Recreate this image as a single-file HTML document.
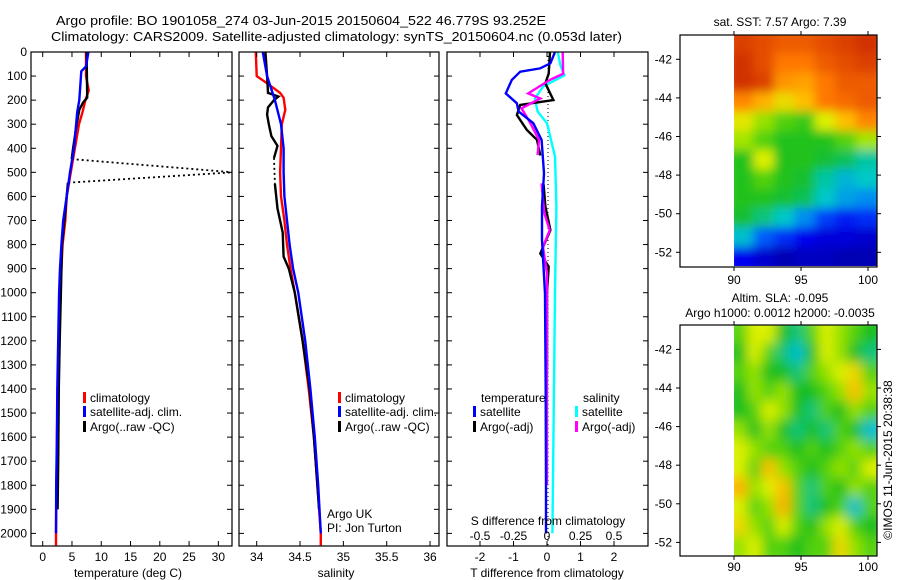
<!DOCTYPE html>
<html><head><meta charset="utf-8"><style>
html,body{margin:0;padding:0;background:#fff;}
svg{display:block;font-family:"Liberation Sans",Arial,sans-serif;}
text{fill:#000;font-size:12px;}
</style></head><body>
<svg id="chart" width="900" height="580" viewBox="0 0 900 580" xmlns="http://www.w3.org/2000/svg">
<defs>
<filter id="blurA" x="0" y="0" width="1" height="1"><feGaussianBlur stdDeviation="5"/></filter>
<filter id="blurB" x="0" y="0" width="1" height="1"><feGaussianBlur stdDeviation="6"/></filter>
<clipPath id="clip1"><rect x="31" y="52" width="201" height="494"/></clipPath>
<clipPath id="clip2"><rect x="239" y="52" width="200" height="494"/></clipPath>
<clipPath id="clip3"><rect x="447" y="52" width="201" height="494"/></clipPath>
<clipPath id="clipM1"><rect x="734" y="35" width="143" height="231"/></clipPath>
<clipPath id="clipM2"><rect x="734" y="325" width="143" height="231"/></clipPath>
</defs>
<text x="56" y="25" textLength="490" lengthAdjust="spacingAndGlyphs" style="font-size:13px">Argo profile: BO 1901058_274 03-Jun-2015 20150604_522 46.779S 93.252E</text>
<text x="51" y="41" textLength="571" lengthAdjust="spacingAndGlyphs" style="font-size:13px">Climatology: CARS2009. Satellite-adjusted climatology: synTS_20150604.nc (0.053d later)</text>
<g id="g1"></g><g id="g2"></g><g id="g3"></g><g id="gm1"></g><g id="gm2"></g>
</svg>
<script>
// ---------- data ----------
const depthTicks = [0,100,200,300,400,500,600,700,800,900,1000,1100,1200,1300,1400,1500,1600,1700,1800,1900,2000];
const tempTicks = [0,5,10,15,20,25,30];
const salTicks = [34,34.5,35,35.5,36];
const salTickLabels = ["34","34.5","35","35.5","36"];
const dtTicks = [-2,-1,0,1,2];
const dsTicks = [-0.5,-0.25,0,0.25,0.5];
const dsTickLabels = ["-0.5","-0.25","0","0.25","0.5"];

const climTempDepth = [0,100,160,200,250,300,400,500,600,700,800,900,1000,1200,1400,1600,1800,2000,2050];
const climTemp      = [7.4,7.4,7.85,7.3,6.8,6.2,5.5,4.8,4.1,3.86,3.4,3.2,2.95,2.75,2.55,2.45,2.35,2.27,2.27];
const satTempDepth = [0,60,80,200,250,400,500,600,700,800,900,1000,1200,1400,1600,1800,2000];
const satTemp      = [7.8,7.4,6.6,6.25,5.9,5.35,4.66,4.1,3.5,3.2,2.95,2.8,2.65,2.5,2.42,2.3,2.27];
const argoTempDepth = [0,190,210,240,300,400,445];
const argoTemp      = [7.5,7.6,6.9,6.25,5.8,5.2,4.95];
const argoTempGapDepth = [445,500,543];
const argoTempGap      = [4.95,32.5,4.3];
const argoTemp2Depth = [543,600,800,1000,1200,1400,1700,1900];
const argoTemp2      = [4.3,4.1,3.3,3.1,2.9,2.75,2.65,2.55];

const climSalDepth = [0,100,130,170,190,240,300,400,500,600,700,800,900,1000,1200,1400,1600,1800,2000,2050];
const climSal      = [33.99,34.0,34.12,34.27,34.31,34.33,34.29,34.28,34.27,34.28,34.32,34.35,34.39,34.44,34.53,34.6,34.66,34.7,34.74,34.74];
const satSalDepth = [0,100,200,300,400,500,600,700,800,900,1000,1200,1400,1600,1800,2000];
const satSal      = [34.07,34.12,34.21,34.28,34.31,34.31,34.32,34.35,34.38,34.42,34.48,34.56,34.62,34.67,34.71,34.74];
const argoSalDepth = [0,100,170,185,200,230,260,300,350,390,440];
const argoSal      = [34.1,34.12,34.13,34.25,34.2,34.13,34.12,34.14,34.17,34.24,34.2];
const argoSalGapDepth = [440,548];
const argoSalGap      = [34.2,34.21];
const argoSal2Depth = [548,650,750,850,900,1000,1200,1400,1600,1800,1900];
const argoSal2      = [34.21,34.24,34.3,34.31,34.37,34.44,34.53,34.61,34.66,34.7,34.72];

const dTsatDepth = [0,47,68,82,116,172,213,247,296,365,504,642,781,1003,1400,1800,2000];
const dTsat      = [0.24,0.1,-0.21,-0.8,-1.05,-1.23,-0.9,-0.85,-0.41,-0.16,-0.09,-0.15,-0.15,-0.06,-0.04,-0.03,-0.03];
const dTargoDepth = [0,90,130,200,220,262,324,365,430];
const dTargo      = [0.09,0.05,-0.05,0.19,-0.8,-0.9,-0.6,-0.3,-0.2];
const dTargo2Depth = [550,640,740,837,892,1000,1300,1500];
const dTargo2      = [-0.1,-0.05,0.1,-0.2,0.05,0.0,0.0,-0.02];
const dSsatDepth = [0,55,97,144,193,247,296,435,642,1000,1500,2000];
const dSsat      = [0.08,0.1,0.13,-0.03,-0.09,-0.07,0.0,0.06,0.07,0.06,0.05,0.04];
const dSargoDepth = [0,90,116,172,193,234,290,365,428];
const dSargo      = [0.117,0.12,0.022,-0.14,-0.05,-0.19,-0.13,-0.06,-0.07];
const dSargo2Depth = [546,670,740,810,920,1000,1300,1600,1800];
const dSargo2      = [-0.04,-0.02,0.02,-0.03,0.0,0.0,0.0,0.0,0.0];

const latTicks = [-42,-44,-46,-48,-50,-52];
const lonTicks = [90,95,100];
const sstGrid = [
[.88,.86,.84,.84,.86,.88,.9],
[.9,.86,.8,.8,.84,.86,.88],
[.9,.88,.76,.74,.8,.84,.84],
[.78,.72,.64,.7,.8,.82,.84],
[.62,.55,.5,.48,.6,.7,.78],
[.56,.5,.46,.46,.46,.5,.56],
[.46,.6,.46,.46,.44,.42,.38],
[.46,.5,.46,.44,.38,.34,.36],
[.46,.46,.44,.42,.36,.32,.3],
[.44,.4,.36,.3,.22,.18,.2],
[.35,.25,.2,.15,.12,.12,.1],
[.15,.1,.06,.08,.08,.06,.06]];
const slaGrid = [
[.5,.6,.6,.45,.4,.5,.6,.55,.5,.45],
[.45,.6,.5,.4,.35,.45,.6,.55,.45,.4],
[.5,.55,.45,.45,.4,.5,.55,.6,.65,.5],
[.45,.55,.5,.55,.45,.45,.5,.55,.7,.55],
[.45,.5,.6,.55,.45,.4,.5,.45,.55,.5],
[.55,.45,.55,.45,.4,.45,.4,.5,.45,.35],
[.6,.55,.5,.5,.45,.5,.45,.5,.55,.5],
[.6,.5,.7,.55,.5,.45,.5,.55,.5,.6],
[.72,.55,.6,.7,.5,.4,.5,.45,.55,.5],
[.6,.5,.55,.72,.5,.4,.45,.5,.35,.5],
[.65,.55,.5,.6,.5,.45,.55,.6,.5,.45],
[.55,.6,.5,.5,.45,.5,.5,.65,.55,.5]];

// ---------- scales ----------
const yD = d => 52 + d*0.2407;
const xT = t => 42.7 + t*5.855;
const xS = s => 256.7 + (s-34)*86.67;
const xDT = t => 547 + t*33.5;
const xDS = s => 547 + s*134;
const NS = "http://www.w3.org/2000/svg";
function mk(tag, parent, attrs){ const e=document.createElementNS(NS,tag); for(const k in attrs) e.setAttribute(k,attrs[k]); parent.appendChild(e); return e; }
function txt(parent, x, y, s, anchor){ const t=mk('text',parent,{x:x,y:y,'text-anchor':anchor||'start'}); t.textContent=s; return t; }
function line(parent, xs, ds, fx, color, dash, clip){
  const pts = xs.map((v,i)=>fx(v).toFixed(1)+','+yD(ds[i]).toFixed(1)).join(' ');
  const a={points:pts,fill:'none',stroke:color,'stroke-width':dash?1.8:2.4,'clip-path':'url(#'+clip+')'};
  if(dash) a['stroke-dasharray']='2,3';
  return mk('polyline',parent,a);
}
function box(parent,x0,y0,x1,y1){ return mk('rect',parent,{x:x0,y:y0,width:x1-x0,height:y1-y0,fill:'none',stroke:'#000','stroke-width':1.2}); }
function depthAxis(parent,x0,x1,labels){
  depthTicks.forEach(d=>{ const y=yD(d);
    mk('line',parent,{x1:x0,y1:y,x2:x0+5,y2:y,stroke:'#000'});
    mk('line',parent,{x1:x1,y1:y,x2:x1-5,y2:y,stroke:'#000'});
    if(labels){ const t=txt(parent,27,y+4,String(d),'end');
      
       }
  });
}
function xTicks(parent,vals,labs,fx,y0,y1,ly){
  vals.forEach((v,i)=>{ const x=fx(v);
    mk('line',parent,{x1:x,y1:y1,x2:x,y2:y1-5,stroke:'#000'});
    mk('line',parent,{x1:x,y1:y0,x2:x,y2:y0+5,stroke:'#000'});
    if(ly){ const t=txt(parent,x,ly,labs[i],'middle');
      
       }
  });
}
function legendItem(parent,x,y,color,label){
  mk('rect',parent,{x:x,y:y-10,width:3,height:11,fill:color});
  const t=txt(parent,x+7,y,label);
  
  
}
const cmapStops=[[0,[0,0,140]],[0.15,[0,0,240]],[0.28,[0,120,255]],[0.36,[0,200,200]],[0.45,[20,190,30]],[0.53,[120,220,0]],[0.6,[220,240,0]],[0.7,[255,190,0]],[0.8,[255,120,0]],[0.9,[210,50,0]],[1,[160,0,0]]];
function jet(v){
  for(let i=1;i<cmapStops.length;i++){
    if(v<=cmapStops[i][0]){ const a=cmapStops[i-1],b=cmapStops[i]; const f=(v-a[0])/(b[0]-a[0]);
      const c=a[1].map((x,k)=>Math.round(x+(b[1][k]-x)*f)); return 'rgb('+c.join(',')+')'; }
  }
  return 'rgb(160,0,0)';
}

// ---------- panel 1: temperature ----------
const g1=document.getElementById('g1');


line(g1,climTemp,climTempDepth,xT,'#f00',false,'clip1');
line(g1,argoTemp,argoTempDepth,xT,'#000',false,'clip1');
line(g1,argoTempGap,argoTempGapDepth,xT,'#000',true,'clip1');
line(g1,argoTemp2,argoTemp2Depth,xT,'#000',false,'clip1');
line(g1,satTemp,satTempDepth,xT,'#00f',false,'clip1');
box(g1,31,52,232,546);
depthAxis(g1,31,232,true);
xTicks(g1,tempTicks,tempTicks.map(String),xT,52,546,561);
let t=txt(g1,128,577,'temperature (deg C)','middle');


legendItem(g1,83,402,'#f00','climatology');
legendItem(g1,83,416,'#00f','satellite-adj. clim.');
legendItem(g1,83,431,'#000','Argo(..raw -QC)');

// ---------- panel 2: salinity ----------
const g2=document.getElementById('g2');


line(g2,climSal,climSalDepth,xS,'#f00',false,'clip2');
line(g2,argoSal,argoSalDepth,xS,'#000',false,'clip2');
line(g2,argoSalGap,argoSalGapDepth,xS,'#000',true,'clip2');
line(g2,argoSal2,argoSal2Depth,xS,'#000',false,'clip2');
line(g2,satSal,satSalDepth,xS,'#00f',false,'clip2');
box(g2,239,52,439,546);
depthAxis(g2,239,439,false);
xTicks(g2,salTicks,salTickLabels,xS,52,546,561);
t=txt(g2,336,577,'salinity','middle');


legendItem(g2,338,402,'#f00','climatology');
legendItem(g2,338,416,'#00f','satellite-adj. clim.');
legendItem(g2,338,431,'#000','Argo(..raw -QC)');
t=txt(g2,327,518,'Argo UK');


t=txt(g2,327,532,'PI: Jon Turton');



// ---------- panel 3: differences ----------
const g3=document.getElementById('g3');


mk('line',g3,{x1:xDT(0)+1,y1:52,x2:xDT(0)+1,y2:546,stroke:'#000','stroke-dasharray':'1,3'});
line(g3,dSsat,dSsatDepth,xDS,'#0ff',false,'clip3');
line(g3,dTargo,dTargoDepth,xDT,'#000',false,'clip3');
line(g3,dTargo2,dTargo2Depth,xDT,'#000',false,'clip3');
line(g3,dSargo,dSargoDepth,xDS,'#f0f',false,'clip3');
line(g3,dSargo2,dSargo2Depth,xDS,'#f0f',false,'clip3');
line(g3,dTsat,dTsatDepth,xDT,'#00f',false,'clip3');
box(g3,447,52,648,546);
depthAxis(g3,447,648,false);
xTicks(g3,dtTicks,dtTicks.map(String),xDT,52,546,561);
dsTicks.forEach((v,i)=>{ const tt=txt(g3,xDS(v),540,dsTickLabels[i],'middle');
  
   });
t=txt(g3,548,525,'S difference from climatology','middle');


t=txt(g3,547,577,'T difference from climatology','middle');


t=txt(g3,481,402,'temperature');


t=txt(g3,583,402,'salinity');


legendItem(g3,473,416,'#00f','satellite');
legendItem(g3,473,431,'#000','Argo(-adj)');
legendItem(g3,575,416,'#0ff','satellite');
legendItem(g3,575,431,'#f0f','Argo(-adj)');

// ---------- maps ----------
function drawMap(g,grid,top,bottom,yLat,clip,blur,ly){
  const rows=grid.length, cols=grid[0].length;
  const x0=734,x1=877;
  const gi=mk('g',g,{'clip-path':'url(#'+clip+')'});
  const gb=mk('g',gi,{filter:'url(#'+blur+')'});
  const cw=(x1-x0)/cols, ch=(bottom-top)/rows;
  grid.forEach((row,r)=>row.forEach((v,c)=>{
    const cell=mk('rect',gb,{x:(x0+c*cw-(c==0?8:1)).toFixed(1),y:(top+r*ch-(r==0?8:1)).toFixed(1),width:(cw+(c==0||c==cols-1?9:2)).toFixed(1),height:(ch+(r==0||r==rows-1?9:2)).toFixed(1),fill:jet(v)});
    
    
  }));
  box(g,680,top,877,bottom);
  latTicks.forEach(l=>{ const y=yLat(l);
    mk('line',g,{x1:680,y1:y,x2:676,y2:y,stroke:'#000'});
    mk('line',g,{x1:877,y1:y,x2:881,y2:y,stroke:'#000'});
    const tt=txt(g,672,y+4,String(l),'end');
    
     });
  lonTicks.forEach(l=>{ const x=734+(l-90)*13.4;
    mk('line',g,{x1:x,y1:top,x2:x,y2:top-4,stroke:'#000'});
    mk('line',g,{x1:x,y1:bottom,x2:x,y2:bottom+4,stroke:'#000'});
    const tt=txt(g,x,ly,String(l),'middle');
    
     });
}
const gm1=document.getElementById('gm1');


drawMap(gm1,sstGrid,35,267,l=>59.3+(-42-l)*19.3,'clipM1','blurA',284);
t=txt(gm1,780,26,'sat. SST: 7.57 Argo: 7.39','middle');


const gm2=document.getElementById('gm2');


drawMap(gm2,slaGrid,325,556,l=>349.4+(-42-l)*19.3,'clipM2','blurB',571);
t=txt(gm2,780,302,'Altim. SLA: -0.095','middle');


t=txt(gm2,780,317,'Argo h1000: 0.0012 h2000: -0.0035','middle');


t=txt(gm2,0,0,'©IMOS 11-Jun-2015 20:38:38','middle');
t.setAttribute('transform','translate(892,460) rotate(-90)');


</script>
</body></html>
